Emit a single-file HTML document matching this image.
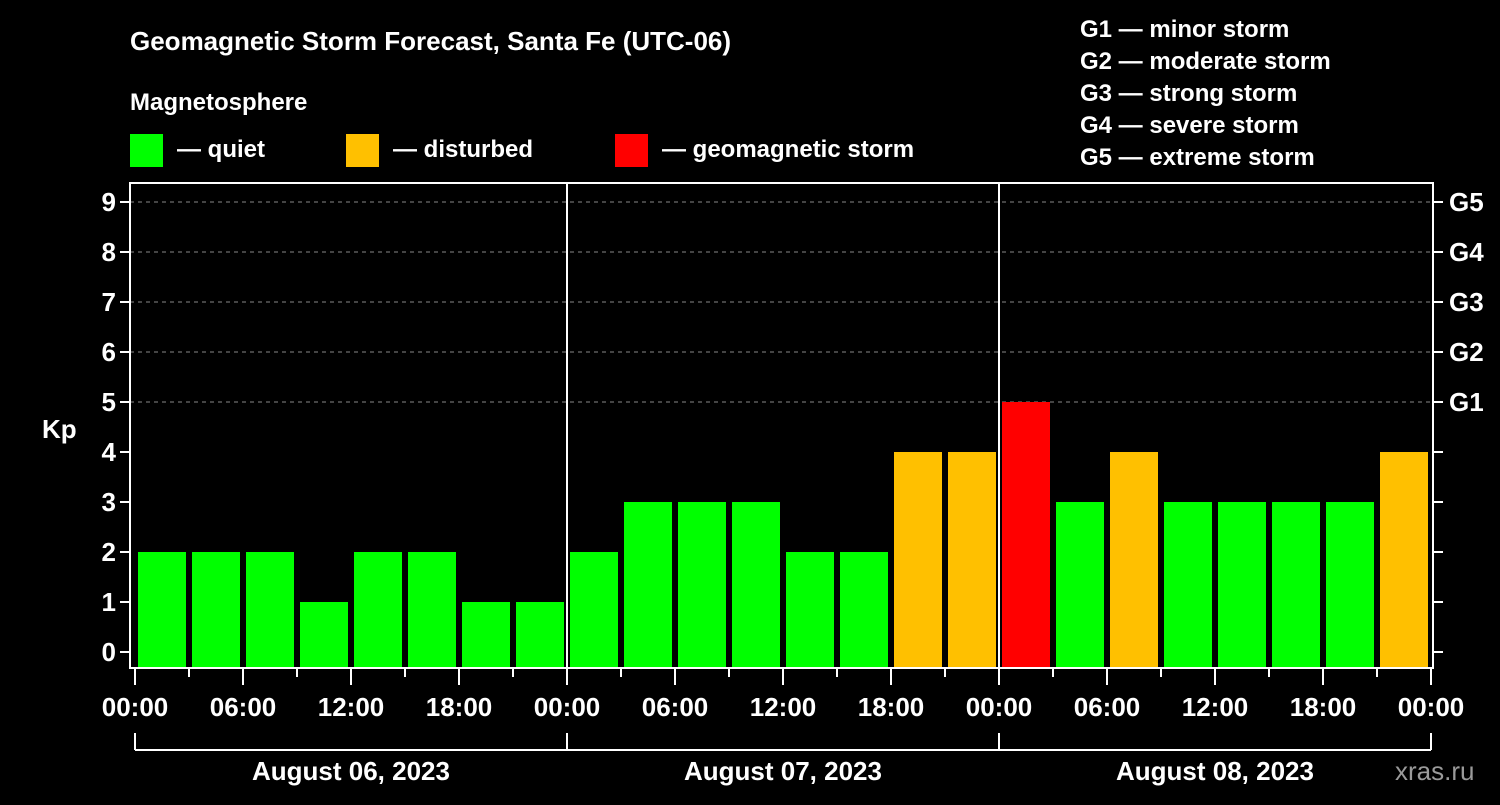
<!DOCTYPE html>
<html><head><meta charset="utf-8"><style>
body{margin:0;background:#000;width:1500px;height:800px;overflow:hidden}
svg text{font-family:"Liberation Sans",sans-serif;font-weight:bold;fill:#fff}
</style></head><body>
<svg id="c" width="1500" height="800">
<text x="130" y="50" font-size="26">Geomagnetic Storm Forecast, Santa Fe (UTC-06)</text>
<text x="130" y="110" font-size="24">Magnetosphere</text>
<g><rect x="130" y="134" width="33" height="33" fill="#00ff00"/><text x="177" y="157" font-size="24">— quiet</text></g>
<g><rect x="346" y="134" width="33" height="33" fill="#ffc000"/><text x="393" y="157" font-size="24">— disturbed</text></g>
<g><rect x="615" y="134" width="33" height="33" fill="#ff0000"/><text x="662" y="157" font-size="24">— geomagnetic storm</text></g>
<g font-size="24">
<text x="1080" y="37">G1 — minor storm</text><text x="1080" y="69">G2 — moderate storm</text><text x="1080" y="101">G3 — strong storm</text><text x="1080" y="133">G4 — severe storm</text><text x="1080" y="165">G5 — extreme storm</text></g>
<text x="42" y="438" font-size="26">Kp</text>
<text x="1395" y="780" font-size="26" fill="#999" style="fill:#9a9a9a;font-weight:normal">xras.ru</text>
<g id="grid"></g><g id="bars"></g><g id="axes"></g>
</svg>
<script>
const kpValues=[2,2,2,1,2,2,1,1, 2,3,3,3,2,2,4,4, 5,3,4,3,3,3,3,4];
const dayLabels=["August 06, 2023","August 07, 2023","August 08, 2023"];
const hourLabels=["00:00","06:00","12:00","18:00"];
const yTicks=[0,1,2,3,4,5,6,7,8,9];
const gLabels=["G1","G2","G3","G4","G5"];
const NS="http://www.w3.org/2000/svg";
const X0=135,SLOT=54,L=130,R=1433,T=183,B=668;
const x=i=>X0+i*SLOT;
const y=v=>652-v*50;
function mk(parent,tag,attrs){const e=document.createElementNS(NS,tag);for(const k in attrs)e.setAttribute(k,attrs[k]);document.getElementById(parent).appendChild(e);return e;}
const col=v=>v>=5?"#ff0000":v>=4?"#ffc000":"#00ff00";
for(let v=5;v<=9;v++){const g=mk("grid","line",{x1:L,x2:R,y1:y(v),y2:y(v),stroke:"#888","stroke-dasharray":"4,4","stroke-width":1});

}
kpValues.forEach((v,i)=>{const r=mk("bars","rect",{x:x(i)+3,width:48,y:y(v),height:B-y(v),fill:col(v)});

});
const ax=mk("axes","rect",{x:L,y:T,width:R-L,height:B-T,fill:"none",stroke:"#fff","stroke-width":2});


[1,2].forEach(d=>{const l=mk("axes","line",{x1:x(d*8),x2:x(d*8),y1:T,y2:B,stroke:"#fff","stroke-width":2});

});
yTicks.forEach(v=>{mk("axes","line",{x1:L-10,x2:L,y1:y(v),y2:y(v),stroke:"#fff","stroke-width":2});
mk("axes","line",{x1:R,x2:R+10,y1:y(v),y2:y(v),stroke:"#fff","stroke-width":2});
const t=mk("axes","text",{x:L-14,y:y(v)+9,"font-size":26,"text-anchor":"end"});t.textContent=v;

});
gLabels.forEach((g,i)=>{const t=mk("axes","text",{x:R+16,y:y(i+5)+9,"font-size":26});t.textContent=g;

});
for(let i=0;i<=24;i++){const maj=i%2==0;mk("axes","line",{x1:x(i),x2:x(i),y1:B,y2:B+(maj?17:9),stroke:"#fff","stroke-width":2});
if(maj){const t=mk("axes","text",{x:x(i),y:716,"font-size":26,"text-anchor":"middle"});t.textContent=hourLabels[(i/2)%4];

}}
mk("axes","line",{x1:x(0),x2:x(24),y1:750,y2:750,stroke:"#fff","stroke-width":2});
dayLabels.forEach((d,k)=>{mk("axes","line",{x1:x(k*8),x2:x(k*8),y1:733,y2:750,stroke:"#fff","stroke-width":2});
const t=mk("axes","text",{x:x(k*8+4),y:780,"font-size":26,"text-anchor":"middle"});t.textContent=d;

});
mk("axes","line",{x1:x(24),x2:x(24),y1:733,y2:750,stroke:"#fff","stroke-width":2});
</script>
</body></html>
